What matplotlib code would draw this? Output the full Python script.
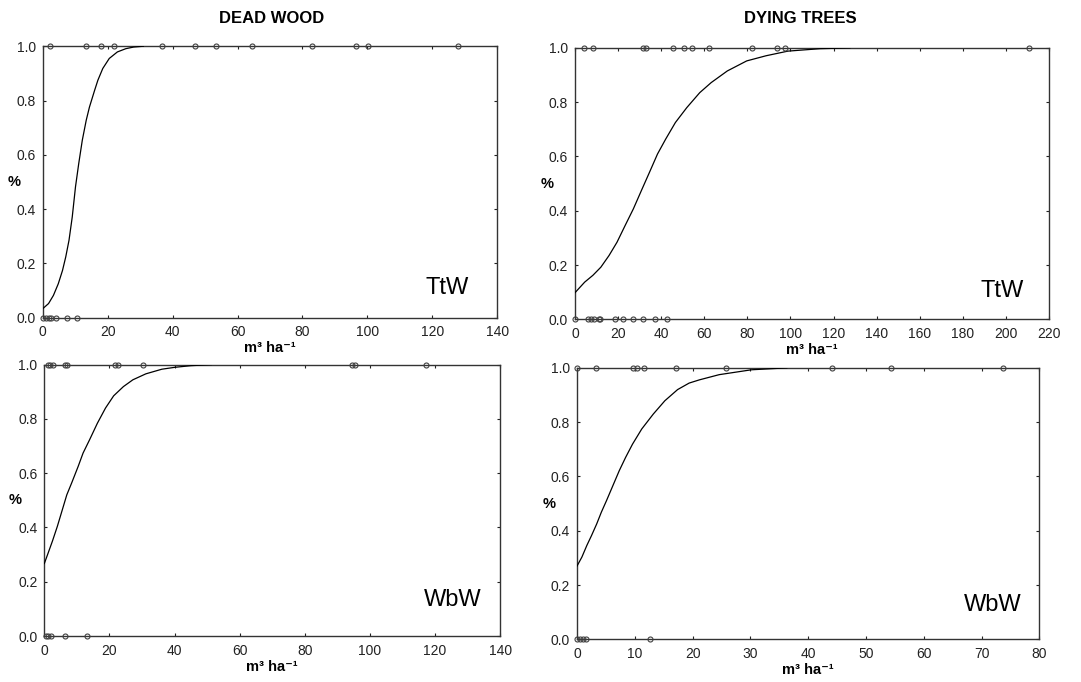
import matplotlib
matplotlib.use("Agg")
import matplotlib.pyplot as plt

plt.rcParams["font.family"] = ["Liberation Sans", "DejaVu Sans"]

# ---- data ----
# Dead wood, TtW
dw_ttw_x1 = [2.3, 13.3, 18.1, 22.0, 36.7, 46.9, 53.5, 64.4, 82.9, 96.6, 100.2, 128.0]
dw_ttw_x0 = [0.0, 0.9, 1.8, 2.7, 4.2, 7.6, 10.6]
dw_ttw_fit_x = [0, 1.8, 3.3, 4.8, 6.1, 7.1, 8.1, 9.1, 10.1, 11.1, 12.2, 13.4,
                14.4, 16.0, 17.0, 18.5, 20.5, 23.0, 25.6, 28.0, 31.0]
dw_ttw_fit_p = [0.033, 0.052, 0.082, 0.125, 0.174, 0.224, 0.285, 0.371, 0.482,
                0.568, 0.654, 0.727, 0.776, 0.838, 0.875, 0.918, 0.955, 0.979,
                0.991, 0.997, 1.0]

# Dying trees, TtW
dt_ttw_x1 = [4.4, 8.3, 31.7, 32.8, 45.6, 50.6, 54.1, 62.0, 82.3, 93.7, 97.5, 210.9]
dt_ttw_x0 = [0.0, 5.9, 7.3, 8.7, 11.0, 11.8, 18.4, 22.5, 27.0, 31.7, 37.1, 42.8]
dt_ttw_fit_x = [0, 4.5, 8.3, 12.0, 15.8, 19.5, 23.3, 27.1, 30.8, 34.6, 38.3, 42.1,
                46.6, 51.9, 57.9, 63.2, 70.7, 79.7, 88.7, 98.8, 113.7, 127.6]
dt_ttw_fit_p = [0.098, 0.137, 0.162, 0.192, 0.235, 0.284, 0.346, 0.407, 0.474,
                0.542, 0.609, 0.664, 0.725, 0.78, 0.835, 0.872, 0.915, 0.952,
                0.971, 0.988, 0.997, 1.0]

# Dead wood, WbW
dw_wbw_x1 = [1.2, 1.7, 2.8, 6.3, 6.9, 21.7, 22.7, 30.2, 94.6, 95.5, 117.3]
dw_wbw_x0 = [0.5, 1.2, 1.9, 6.4, 13.1]
dw_wbw_fit_x = [0, 1.0, 2.5, 4.0, 5.4, 6.9, 8.4, 10.4, 11.9, 13.9, 16.3, 18.8,
                21.3, 24.3, 27.2, 31.2, 36.1, 40.1, 45.0, 51.3]
dw_wbw_fit_p = [0.267, 0.30, 0.35, 0.404, 0.46, 0.52, 0.564, 0.625, 0.674, 0.723,
                0.784, 0.84, 0.885, 0.919, 0.944, 0.966, 0.983, 0.99, 0.996, 1.0]

# Dying trees, WbW
dt_wbw_x1 = [0.0, 3.2, 9.6, 10.3, 11.6, 17.2, 25.8, 44.2, 54.4, 73.7]
dt_wbw_x0 = [0.0, 0.45, 1.0, 1.5, 12.7]
dt_wbw_fit_x = [0, 0.84, 1.7, 2.5, 3.4, 4.2, 5.1, 6.2, 7.3, 8.4, 9.6, 11.2, 13.2,
                15.2, 17.4, 19.4, 21.2, 24.6, 30.2, 36.3]
dt_wbw_fit_p = [0.27, 0.303, 0.346, 0.382, 0.425, 0.468, 0.511, 0.566, 0.621,
                0.67, 0.719, 0.775, 0.83, 0.879, 0.92, 0.944, 0.956, 0.975,
                0.993, 1.0]

col_titles = ["DEAD WOOD", "DYING TREES"]
site_labels = ["TtW", "TtW", "WbW", "WbW"]
x_limits = [140, 220, 140, 80]
x_steps = [20, 20, 20, 10]

panels = [
    (dw_ttw_x1, dw_ttw_x0, dw_ttw_fit_x, dw_ttw_fit_p),
    (dt_ttw_x1, dt_ttw_x0, dt_ttw_fit_x, dt_ttw_fit_p),
    (dw_wbw_x1, dw_wbw_x0, dw_wbw_fit_x, dw_wbw_fit_p),
    (dt_wbw_x1, dt_wbw_x0, dt_wbw_fit_x, dt_wbw_fit_p),
]

# axes rectangles in figure fractions (measured from reference)
rects = [
    [0.0395, 0.5342, 0.4205, 0.398],
    [0.5319, 0.5318, 0.4385, 0.398],
    [0.0410, 0.0674, 0.4216, 0.398],
    [0.5338, 0.0626, 0.4277, 0.398],
]
label_pos = [(0.938, 0.088), (0.946, 0.083), (0.960, 0.110), (0.962, 0.105)]
ylab_x = [-0.0625, -0.058, -0.065, -0.061]

fig = plt.figure(figsize=(10.81, 6.82), dpi=100)

for i, (x1, x0, fx, fp) in enumerate(panels):
    ax = fig.add_axes(rects[i])
    ax.plot(fx, fp, color="black", lw=0.9, zorder=3)
    ax.plot(x1, [1.0] * len(x1), ls="none", marker="o", ms=3.6,
            mfc="none", mec="#404040", mew=0.8, clip_on=False, zorder=4)
    ax.plot(x0, [0.0] * len(x0), ls="none", marker="o", ms=3.6,
            mfc="none", mec="#404040", mew=0.8, clip_on=False, zorder=4)
    ax.set_xlim(0, x_limits[i])
    ax.set_ylim(0, 1)
    ax.set_xticks(range(0, x_limits[i] + 1, x_steps[i]))
    ax.set_yticks([0, 0.2, 0.4, 0.6, 0.8, 1.0])
    ax.set_yticklabels([f"{v:.1f}" for v in [0, 0.2, 0.4, 0.6, 0.8, 1.0]])
    ax.tick_params(direction="in", top=True, right=True, length=2.5,
                   width=0.8, labelsize=10, colors="#222222")
    ax.tick_params(axis="x", pad=5.5)
    ax.tick_params(axis="y", pad=5)
    for sp in ax.spines.values():
        sp.set_linewidth(1.0)
        sp.set_color("#333333")
    ax.set_xlabel("m³ ha⁻¹", fontsize=10.5, fontweight="bold", labelpad=1.5)
    ax.set_ylabel("%", rotation=0, fontsize=10.5, fontweight="bold",
                  va="center", ha="center")
    ax.yaxis.set_label_coords(ylab_x[i], 0.5)
    ax.text(label_pos[i][0], label_pos[i][1], site_labels[i],
            transform=ax.transAxes, ha="right", va="baseline", fontsize=17)

fig.text(0.2516, 0.9736, col_titles[0], ha="center", va="center",
         fontsize=12, fontweight="bold")
fig.text(0.7407, 0.9725, col_titles[1], ha="center", va="center",
         fontsize=12, fontweight="bold")

fig.savefig("out.png", dpi=100)
